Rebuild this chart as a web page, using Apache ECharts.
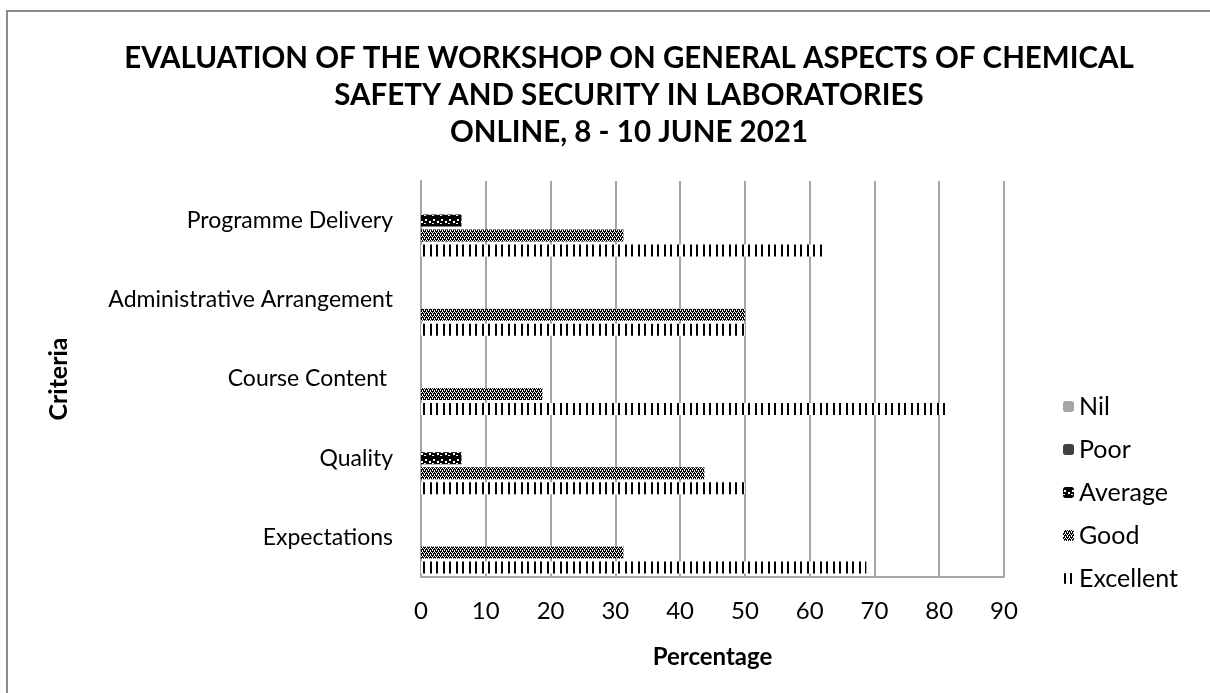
<!DOCTYPE html>
<html>
<head>
<meta charset="utf-8">
<script src="https://cdn.jsdelivr.net/npm/echarts@6/dist/echarts.min.js"></script>
<style>
  html, body { margin: 0; padding: 0; background: #fff; }
  #chart { width: 1210px; height: 693px; }
</style>
</head>
<body>
<div id="chart"></div>
<script>
var categories = ['Expectations', 'Quality', 'Course Content ', 'Administrative Arrangement', 'Programme Delivery'];
var seriesNames = ['Nil', 'Poor', 'Average', 'Good', 'Excellent'];
var nil = [0, 0, 0, 0, 0];
var poor = [0, 0, 0, 0, 0];
var average = [0, 6.25, 0, 0, 6.25];
var good = [31.25, 43.75, 18.75, 50, 31.25];
var excellent = [68.75, 50, 81.25, 50, 62.5];
var xTicks = [0, 90, 10];

// little tiles to fake the excel fill patterns
function tile(w, h, draw) {
  var c = document.createElement('canvas');
  c.width = w; c.height = h;
  var ctx = c.getContext('2d');
  ctx.fillStyle = '#fff';
  ctx.fillRect(0, 0, w, h);
  ctx.fillStyle = '#000';
  draw(ctx);
  return { image: c, repeat: 'repeat' };
}

var stripes = tile(13, 4, function (ctx) {
  ctx.fillRect(1, 0, 2, 4);
  ctx.fillRect(7, 0, 2, 4);
});

// staggered white dots on black
var checker = tile(4, 4, function (ctx) {
  ctx.fillRect(0, 0, 4, 4);
  ctx.fillStyle = '#fff';
  ctx.fillRect(1, 0, 1, 1);
  ctx.fillRect(3, 0, 1, 1);
  ctx.fillRect(0, 2, 1, 1);
  ctx.fillRect(2, 2, 1, 1);
  ctx.fillRect(0, 1, 1, 1);
  ctx.fillRect(2, 3, 1, 1);
});

var shingle = tile(8, 8, function (ctx) {
  ctx.fillRect(0, 0, 8, 8);
  ctx.fillStyle = '#fff';
  ctx.fillRect(1, 3, 2, 2);
  ctx.fillRect(5, 5, 2, 2);
  ctx.fillRect(0, 7, 2, 1);
});

var fills = ['#a5a5a5', '#404040', shingle, checker, stripes];
var values = [nil, poor, average, good, excellent];

var series = seriesNames.map(function (name, i) {
  return {
    name: name,
    type: 'bar',
    barWidth: 12,
    barGap: '25%',
    data: values[i],
    itemStyle: { color: fills[i] },
    emphasis: { disabled: true }
  };
});

var chart = echarts.init(document.getElementById('chart'));
chart.setOption({
  animation: false,
  textStyle: { fontFamily: 'Lato, "Open Sans", sans-serif' },
  title: {
    text: 'EVALUATION OF THE WORKSHOP ON GENERAL ASPECTS OF CHEMICAL\nSAFETY AND SECURITY IN LABORATORIES\nONLINE, 8 - 10 JUNE 2021',
    left: 624,
    top: 35,
    textAlign: 'center',
    textStyle: { fontSize: 29.5, fontWeight: 'bold', color: '#000', lineHeight: 37, fontFamily: 'Lato' }
  },
  legend: {
    orient: 'vertical',
    left: 1058,
    top: 389,
    itemWidth: 11,
    itemHeight: 11,
    itemGap: 18,
    data: seriesNames.slice(),
    textStyle: { fontSize: 25, color: '#000' }
  },
  graphic: [{
    type: 'rect',
    shape: { x: 7, y: 11, width: 1400, height: 900 },
    style: { fill: 'none', stroke: '#8c8c8c', lineWidth: 2 },
    silent: true
  }],
  grid: { left: 421, right: 206, top: 181, bottom: 116, containLabel: false },
  xAxis: {
    type: 'value',
    min: xTicks[0],
    max: xTicks[1],
    interval: xTicks[2],
    name: 'Percentage',
    nameLocation: 'middle',
    nameGap: 68,
    nameTextStyle: { fontSize: 24, fontWeight: 'bold', color: '#000' },
    axisLine: { show: true, lineStyle: { color: '#a6a6a6', width: 2 } },
    axisTick: { show: false },
    axisLabel: { fontSize: 24, color: '#000', margin: 22 },
    splitLine: { show: true, lineStyle: { color: '#a6a6a6', width: 2 } }
  },
  yAxis: {
    type: 'category',
    data: categories,
    name: 'Criteria',
    nameLocation: 'middle',
    nameGap: 350,
    nameRotate: 90,
    nameTextStyle: { fontSize: 25, fontWeight: 'bold', color: '#000' },
    axisLine: { show: true, lineStyle: { color: '#a6a6a6', width: 2 } },
    axisTick: { show: false },
    axisLabel: { fontSize: 23, color: '#000', margin: 28 },
    splitLine: { show: false }
  },
  series: series
});
</script>
</body>
</html>
